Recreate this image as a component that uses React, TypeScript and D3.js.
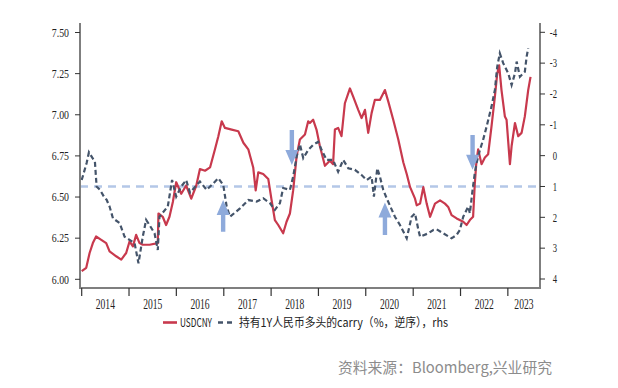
import React from 'react';
import * as d3 from 'd3';

// USDCNY (left axis)
const usdcnyDates = [
  '2014-01-01', '2014-02-05', '2014-03-03', '2014-03-28', '2014-04-22', '2014-06-01', '2014-07-09',
  '2014-08-04', '2014-09-24', '2014-11-02', '2014-12-10', '2015-01-05', '2015-01-31', '2015-02-25',
  '2015-03-23', '2015-04-17', '2015-06-08', '2015-08-11', '2015-08-16', '2015-09-18', '2015-10-14',
  '2015-11-09', '2015-12-05', '2015-12-31', '2016-02-08', '2016-03-17', '2016-04-25', '2016-06-03',
  '2016-07-01', '2016-08-09', '2016-09-17', '2016-10-25', '2016-11-20', '2016-12-16', '2017-01-10',
  '2017-03-03', '2017-04-23', '2017-06-01', '2017-07-09', '2017-08-16', '2017-09-04', '2017-09-24',
  '2017-11-01', '2017-12-10', '2018-01-05', '2018-01-30', '2018-02-25', '2018-04-04', '2018-04-30',
  '2018-05-26', '2018-06-20', '2018-07-17', '2018-08-11', '2018-09-19', '2018-10-14', '2018-10-27',
  '2018-11-21', '2018-12-17', '2019-01-12', '2019-02-20', '2019-03-30', '2019-04-24', '2019-05-08',
  '2019-06-02', '2019-06-28', '2019-07-24', '2019-09-01', '2019-09-26', '2019-11-04', '2019-11-30',
  '2019-12-26', '2020-01-20', '2020-02-15', '2020-03-11', '2020-04-19', '2020-05-28', '2020-06-23',
  '2020-07-31', '2020-09-08', '2020-10-17', '2020-11-12', '2020-12-08', '2021-01-15', '2021-01-28',
  '2021-02-23', '2021-03-20', '2021-04-15', '2021-05-11', '2021-06-18', '2021-07-27', '2021-09-03',
  '2021-09-28', '2021-10-24', '2021-12-02', '2022-01-22', '2022-02-17', '2022-03-14', '2022-04-08',
  '2022-04-21', '2022-05-04', '2022-05-17', '2022-06-12', '2022-07-08', '2022-08-02', '2022-08-28',
  '2022-09-23', '2022-10-11', '2022-10-26', '2022-11-13', '2022-12-09', '2022-12-22', '2023-01-17',
  '2023-01-30', '2023-02-25', '2023-03-22', '2023-04-17', '2023-05-12', '2023-06-07', '2023-06-25',
];
const usdcnyValues = [
  6.05, 6.07, 6.16, 6.22, 6.26, 6.24, 6.22,
  6.17, 6.14, 6.12, 6.16, 6.23, 6.2, 6.27,
  6.22, 6.21, 6.21, 6.22, 6.4, 6.38, 6.33,
  6.38, 6.47, 6.59, 6.52, 6.57, 6.49, 6.57,
  6.67, 6.66, 6.68, 6.79, 6.87, 6.96, 6.92,
  6.91, 6.9, 6.83, 6.79, 6.68, 6.54, 6.65,
  6.64, 6.61, 6.48, 6.36, 6.33, 6.28, 6.35,
  6.4, 6.54, 6.75, 6.85, 6.88, 6.96, 6.95,
  6.97, 6.91, 6.81, 6.69, 6.72, 6.7, 6.91,
  6.92, 6.87, 7.07, 7.16, 7.11, 7.03, 6.98,
  7.03, 6.89, 7.01, 7.09, 7.09, 7.15, 7.08,
  6.97, 6.85, 6.71, 6.64, 6.56, 6.49, 6.45,
  6.46, 6.56, 6.46, 6.38, 6.46, 6.48, 6.46,
  6.44, 6.39, 6.37, 6.35, 6.33, 6.36, 6.38,
  6.58, 6.72, 6.79, 6.7, 6.74, 6.76, 6.93,
  7.11, 7.25, 7.3, 7.15, 6.99, 6.97, 6.7,
  6.81, 6.95, 6.87, 6.89, 6.99, 7.15, 7.23,
];

// carry of a 1Y long CNY position, %, plotted on the inverted right axis
const carryDates = [
  '2014-01-01', '2014-02-08', '2014-02-26', '2014-04-13', '2014-04-26', '2014-05-22', '2014-06-27',
  '2014-07-12', '2014-08-04', '2014-08-30', '2014-10-21', '2014-11-28', '2015-01-05', '2015-02-13',
  '2015-03-15', '2015-04-17', '2015-05-13', '2015-06-08', '2015-07-17', '2015-08-11', '2015-08-24',
  '2015-10-27', '2015-11-29', '2015-12-31', '2016-02-08', '2016-03-17', '2016-04-15', '2016-07-01',
  '2016-08-22', '2016-10-12', '2016-11-20', '2016-12-28', '2017-01-23', '2017-02-18', '2017-05-06',
  '2017-07-09', '2017-09-11', '2017-11-01', '2017-12-23', '2018-01-30', '2018-03-10', '2018-04-04',
  '2018-05-26', '2018-06-20', '2018-07-17', '2018-08-11', '2018-09-06', '2018-10-14', '2018-11-21',
  '2018-12-30', '2019-01-26', '2019-03-05', '2019-04-24', '2019-06-02', '2019-07-11', '2019-08-19',
  '2019-10-09', '2019-11-30', '2020-01-08', '2020-02-15', '2020-03-04', '2020-03-30', '2020-04-19',
  '2020-05-15', '2020-06-10', '2020-08-13', '2020-09-21', '2020-11-12', '2020-12-20', '2021-01-15',
  '2021-02-10', '2021-02-23', '2021-04-27', '2021-06-05', '2021-07-01', '2021-08-21', '2021-10-24',
  '2021-12-02', '2021-12-27', '2022-01-22', '2022-03-01', '2022-03-14', '2022-04-04', '2022-04-21',
  '2022-05-04', '2022-05-30', '2022-06-24', '2022-07-21', '2022-08-28', '2022-09-23', '2022-10-11',
  '2022-10-31', '2022-11-26', '2023-01-04', '2023-01-30', '2023-02-25', '2023-03-10', '2023-04-04',
  '2023-05-12', '2023-05-26', '2023-06-07',
];
const carryValues = [
  0.79, 0.24, -0.11, 0.2, 1.0, 1.11, 1.37,
  1.43, 1.65, 2.03, 2.19, 2.63, 2.73, 2.84,
  3.49, 2.63, 2.08, 2.25, 2.52, 3.06, 1.98,
  1.65, 0.79, 1.33, 1.0, 0.79, 1.2, 0.84,
  1.11, 0.9, 0.73, 0.95, 1.65, 1.98, 1.71,
  1.44, 1.49, 1.38, 1.54, 1.76, 1.54, 1.05,
  1.11, 0.68, 0.03, -0.37, 0.08, -0.18, -0.35,
  -0.45, -0.18, 0.14, 0.14, 0.52, 0.14, 0.41,
  0.46, 0.63, 0.79, 0.68, 1.33, 0.41, 0.68,
  1.11, 1.38, 1.98, 2.25, 2.68, 1.98, 1.87,
  2.41, 2.63, 2.52, 2.41, 2.39, 2.52, 2.68,
  2.57, 2.41, 1.98, 1.65, 1.87, 1.11, 0.57,
  0.25, -0.18, -0.51, -0.94, -1.59, -2.13, -2.88,
  -3.32, -3.0, -2.67, -2.29, -2.67, -3.05, -2.56,
  -2.72, -3.21, -3.48,
];

const leftTicks = [6.0, 6.25, 6.5, 6.75, 7.0, 7.25, 7.5];
const rightTicks = [-4, -3, -2, -1, 0, 1, 2, 3, 4];
const yearLabels = ['2014', '2015', '2016', '2017', '2018', '2019', '2020', '2021', '2022', '2023'];
const carryRefLevel = 1;

// arrows marking turning points, in carry units (rhs)
const arrowDates = ['2016-12-27', '2018-06-10', '2020-05-28', '2022-04-04'];
const arrowFrom = [2.47, -0.83, 2.57, -0.67];
const arrowTo = [1.44, 0.3, 1.52, 0.46];

const legendLabels = ['USDCNY', '持有1Y人民币多头的carry（%，逆序），rhs'];
const sourceText = '资料来源：Bloomberg,兴业研究';

const W = 618;
const H = 388;
const red = '#c8394d';
const navy = '#44546a';
const axisGray = '#7f7f7f';
const arrowBlue = '#8eaadb';
const serif = '"Liberation Serif", "Times New Roman", serif';
const cjk = '"Noto Sans CJK SC", "Noto Sans", sans-serif';

const parse = d3.timeParse('%Y-%m-%d');

export default function App() {
  const plotLeft = 80;
  const plotRight = 540;
  const plotTop = 23;
  const plotBottom = 288;

  const x = d3.scaleTime()
    .domain([new Date(2014, 0, 1), new Date(2023, 8, 6)])
    .range([81.7, plotRight]);
  const yL = d3.scaleLinear().domain([6.0, 7.5]).range([279.3, 32.5]);
  const yR = d3.scaleLinear().domain([4, -4]).range([279, 32.3]);

  const usdcny = usdcnyDates.map((d, i) => ({ date: parse(d)!, v: usdcnyValues[i] }));
  const carry = carryDates.map((d, i) => ({ date: parse(d)!, v: carryValues[i] }));

  const redLine = d3.line<{ date: Date; v: number }>()
    .x(d => x(d.date))
    .y(d => yL(d.v))(usdcny) || '';
  const navyLine = d3.line<{ date: Date; v: number }>()
    .x(d => x(d.date))
    .y(d => yR(d.v))(carry) || '';

  const yearStarts = yearLabels.map(y => new Date(+y, 0, 1));

  const arrowPath = (i: number) => {
    const ax = x(parse(arrowDates[i])!);
    const y0 = yR(arrowFrom[i]);
    const y1 = yR(arrowTo[i]);
    const dir = y1 > y0 ? 1 : -1;
    const headLen = 15;
    const headHalf = 6.5;
    const shaftHalf = 2.2;
    const yb = y1 - dir * headLen;
    return `M${ax - shaftHalf},${y0} L${ax + shaftHalf},${y0} L${ax + shaftHalf},${yb} L${ax + headHalf},${yb} L${ax},${y1} L${ax - headHalf},${yb} L${ax - shaftHalf},${yb} Z`;
  };

  return (
    <svg width={W} height={H} style={{ position: 'absolute', left: 0, top: 0, background: '#fff' }}>
      {/* reference level on rhs */}
      <line x1={plotLeft} x2={plotRight} y1={yR(carryRefLevel)} y2={yR(carryRefLevel)}
        stroke="#b4c7e7" strokeWidth={2.5} strokeDasharray="8 6" />

      <path d={redLine} fill="none" stroke={red} strokeWidth={2.2} strokeLinejoin="round" />
      <path d={navyLine} fill="none" stroke={navy} strokeWidth={2.2} strokeDasharray="5 3" />

      {arrowDates.map((_, i) => (
        <path key={i} d={arrowPath(i)} fill={arrowBlue} />
      ))}

      {/* axes */}
      <line x1={plotLeft} x2={plotLeft} y1={plotTop} y2={plotBottom} stroke={axisGray} strokeWidth={2} />
      <line x1={plotRight} x2={plotRight} y1={plotTop} y2={plotBottom} stroke={axisGray} strokeWidth={2} />
      <line x1={plotLeft - 1} x2={plotRight + 1} y1={plotBottom} y2={plotBottom} stroke={axisGray} strokeWidth={2} />

      {leftTicks.map(t => (
        <g key={t} transform={`translate(0,${yL(t)})`}>
          <line x1={plotLeft - 5} x2={plotLeft} stroke="#333" strokeWidth={1} />
          <g transform="translate(69,4.2) scale(0.8,1)">
            <text textAnchor="end" fontFamily={serif} fontSize={12.3} fill="#222">{t.toFixed(2)}</text>
          </g>
        </g>
      ))}

      {rightTicks.map(t => (
        <g key={t} transform={`translate(0,${yR(t)})`}>
          <line x1={plotRight} x2={plotRight + 5} stroke="#333" strokeWidth={1} />
          <g transform="translate(557,4.2) scale(0.7,1)">
            <text textAnchor="end" fontFamily={serif} fontSize={12.3} fill="#222">{t}</text>
          </g>
        </g>
      ))}

      {yearStarts.map((d, i) => {
        const x0 = x(d);
        const x1 = i < yearStarts.length - 1 ? x(yearStarts[i + 1]) : plotRight;
        return (
          <g key={yearLabels[i]}>
            <line x1={x0} x2={x0} y1={plotBottom} y2={plotBottom + 8} stroke="#333" strokeWidth={1.2} />
            <g transform={`translate(${(x0 + x1) / 2},309) scale(0.66,1)`}>
              <text textAnchor="middle" fontFamily={serif} fontSize={14.5} fill="#222">{yearLabels[i]}</text>
            </g>
          </g>
        );
      })}

      {/* legend */}
      <line x1={163} x2={177} y1={322.5} y2={322.5} stroke={red} strokeWidth={2.6} />
      <text x={180} y={327} fontFamily={cjk} fontSize={12.3} fill="#222"
        textLength={32} lengthAdjust="spacingAndGlyphs">{legendLabels[0]}</text>
      <line x1={218} x2={236} y1={322.5} y2={322.5} stroke={navy} strokeWidth={2.6} strokeDasharray="5 4" />
      <text x={239} y={327} fontFamily={cjk} fontSize={12} fill="#222"
        textLength={209} lengthAdjust="spacingAndGlyphs">{legendLabels[1]}</text>

      <text x={338} y={373} fontFamily={cjk} fontSize={15} fill="#8c8c8c"
        textLength={214} lengthAdjust="spacingAndGlyphs">{sourceText}</text>
    </svg>
  );
}
